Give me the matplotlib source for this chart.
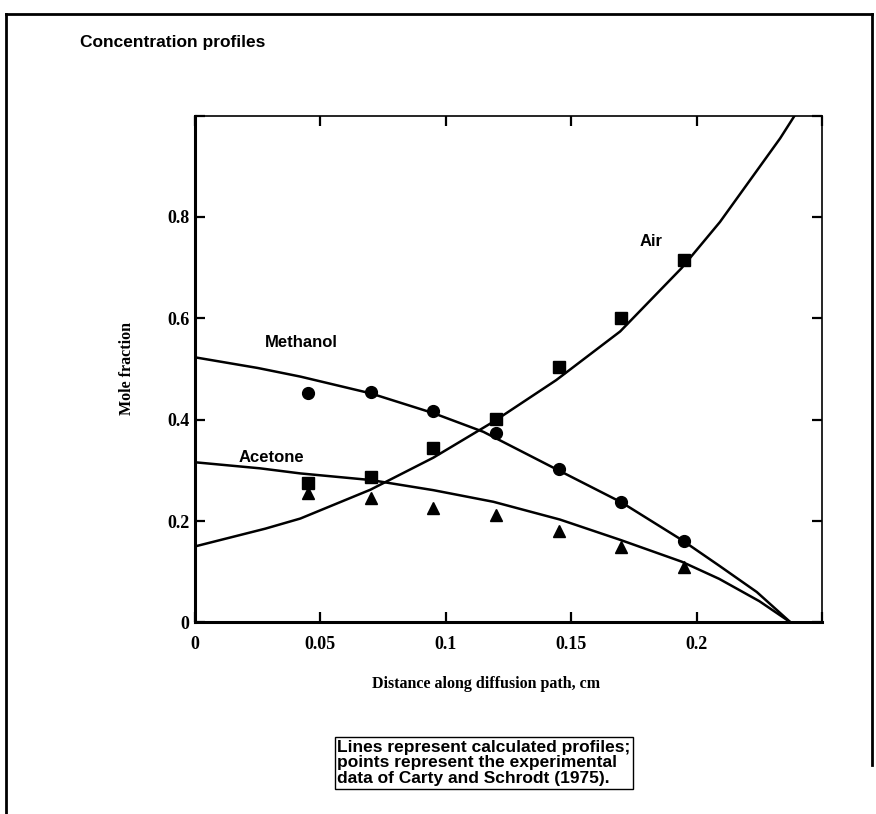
import matplotlib
matplotlib.use("Agg")
import matplotlib.pyplot as plt
from matplotlib.lines import Line2D

# experimental points (Carty and Schrodt)
x_pts = [0.045, 0.07, 0.095, 0.12, 0.145, 0.17, 0.195]
air_pts = [0.276, 0.286, 0.345, 0.401, 0.503, 0.600, 0.715]
methanol_pts = [0.453, 0.455, 0.417, 0.374, 0.302, 0.237, 0.161]
acetone_pts = [0.256, 0.245, 0.225, 0.212, 0.180, 0.148, 0.109]

# calculated profiles
methanol_x = [0.0, 0.025, 0.042, 0.070, 0.095, 0.115, 0.143, 0.170, 0.194, 0.209, 0.224, 0.2375]
methanol_y = [0.523, 0.502, 0.485, 0.452, 0.413, 0.376, 0.305, 0.237, 0.163, 0.112, 0.060, 0.0]
acetone_x = [0.0, 0.026, 0.042, 0.070, 0.095, 0.119, 0.1455, 0.1695, 0.194, 0.209, 0.225, 0.2375]
acetone_y = [0.316, 0.304, 0.294, 0.281, 0.261, 0.238, 0.203, 0.163, 0.120, 0.086, 0.042, 0.0]
air_x = [0.0, 0.028, 0.042, 0.070, 0.095, 0.119, 0.144, 0.1695, 0.194, 0.2093, 0.2173, 0.2333, 0.2391]
air_y = [0.150, 0.185, 0.205, 0.262, 0.325, 0.396, 0.478, 0.574, 0.699, 0.790, 0.845, 0.955, 1.0]

xticks = [0, 0.05, 0.1, 0.15, 0.2, 0.25]
xtick_labels = ["0", "0.05", "0.1", "0.15", "0.2", ""]
yticks = [0, 0.2, 0.4, 0.6, 0.8, 1.0]
ytick_labels = ["0", "0.2", "0.4", "0.6", "0.8", ""]

sans = "Liberation Sans"
serif = "Liberation Serif"

fig = plt.figure(figsize=(8.76, 8.14), dpi=100)
ax = fig.add_axes([0.2226, 0.2353, 0.7158, 0.6228])

ax.plot(methanol_x, methanol_y, color="black", lw=1.8)
ax.plot(acetone_x, acetone_y, color="black", lw=1.8)
ax.plot(air_x, air_y, color="black", lw=1.8)

ax.plot(x_pts, air_pts, "s", color="black", ms=8.5)
ax.plot(x_pts, methanol_pts, "o", color="black", ms=8.5)
ax.plot(x_pts, acetone_pts, "^", color="black", ms=8.5)

ax.text(0.0423, 0.553, "Methanol", fontsize=12, family=sans, fontweight="bold", ha="center", va="center")
ax.text(0.0303, 0.325, "Acetone", fontsize=12, family=sans, fontweight="bold", ha="center", va="center")
ax.text(0.1818, 0.752, "Air", fontsize=12, family=sans, fontweight="bold", ha="center", va="center")

ax.set_xlim(0, 0.25)
ax.set_ylim(0, 1.0)
ax.set_xticks(xticks)
ax.set_xticklabels(xtick_labels, family=serif, fontweight="bold", fontsize=13)
ax.set_yticks(yticks)
ax.set_yticklabels(ytick_labels, family=serif, fontweight="bold", fontsize=13)
ax.tick_params(direction="in", length=7, width=1.6, top=True, right=True)
ax.tick_params(axis="x", pad=10)
ax.tick_params(axis="y", pad=4)
for side in ["left", "bottom"]:
    ax.spines[side].set_linewidth(2.2)
for side in ["top", "right"]:
    ax.spines[side].set_linewidth(1.2)

fig.text(0.0913, 0.948, "Concentration profiles", fontsize=12.5, family=sans, fontweight="bold", va="center")
fig.text(0.145, 0.5467, "Mole fraction", rotation=90, fontsize=11.5, family=serif,
         fontweight="bold", ha="center", va="center")
fig.text(0.555, 0.160, "Distance along diffusion path, cm", fontsize=11.5, family=serif,
         fontweight="bold", ha="center", va="center")
fig.text(0.385, 0.0627, "Lines represent calculated profiles;\npoints represent the experimental\n"
         "data of Carty and Schrodt (1975).", fontsize=12.5, family=sans, fontweight="bold",
         ha="left", va="center", linespacing=1.05,
         bbox=dict(boxstyle="square,pad=0.15", fc="white", ec="black", lw=1.0))

# outer frame
fig.add_artist(Line2D([0.007, 0.007], [0.0, 0.983], color="black", lw=2))
fig.add_artist(Line2D([0.007, 0.995], [0.983, 0.983], color="black", lw=2))
fig.add_artist(Line2D([0.995, 0.995], [0.983, 0.06], color="black", lw=2))

fig.savefig("out.png", dpi=100)
